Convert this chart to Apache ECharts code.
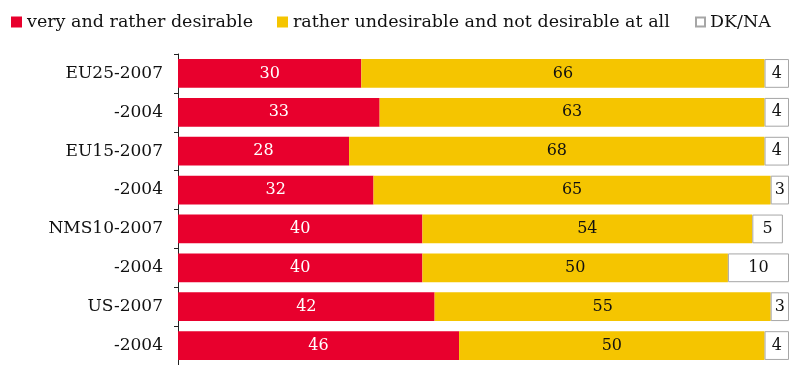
<!DOCTYPE html>
<html>
<head>
<meta charset="utf-8">
<script src="https://cdn.jsdelivr.net/npm/echarts@6/dist/echarts.min.js"></script>
<style>
  html, body { margin: 0; padding: 0; background: #fff; }
  #chart { width: 790px; height: 365px; }
</style>
</head>
<body>
<div id="chart"></div>
<script>
// Survey groups, top to bottom
const categories = ['EU25-2007', '-2004', 'EU15-2007', '-2004', 'NMS10-2007', '-2004', 'US-2007', '-2004'];
// Shares in percent
const desirable   = [30, 33, 28, 32, 40, 40, 42, 46];
const undesirable = [66, 63, 68, 65, 54, 50, 55, 50];
const dkna        = [4, 4, 4, 3, 5, 10, 3, 4];
const seriesNames = ['very and rather desirable', 'rather undesirable and not desirable at all', 'DK/NA'];

const FONT = 'DejaVu Serif';
const RED = '#e8002d';
const YELLOW = '#f5c500';

const chart = echarts.init(document.getElementById('chart'));

function legendAt(left, name, size) {
  return {
    left: left, top: 8,
    data: [{ name: name, icon: 'rect' }],
    itemWidth: size, itemHeight: size,
    itemGap: 6,
    selectedMode: false,
    textStyle: { fontFamily: FONT, fontSize: 17.5, color: '#111', padding: [0, 0, 0, 0] }
  };
}

function barSeries(name, data, color, labelColor, extra) {
  return Object.assign({
    name: name,
    type: 'bar',
    stack: 'total',
    barCategoryGap: '26%',
    data: data,
    itemStyle: { color: color },
    label: {
      show: true,
      position: 'inside',
      color: labelColor,
      fontFamily: FONT,
      fontSize: 16
    },
    emphasis: { disabled: true },
    animation: false
  }, extra || {});
}

chart.setOption({
  animation: false,
  legend: [
    legendAt(6, seriesNames[0], 11),
    legendAt(272, seriesNames[1], 11),
    legendAt(690, seriesNames[2], 9)
  ],
  grid: { left: 178, right: 1, top: 54, height: 314 },
  xAxis: {
    type: 'value',
    min: 0, max: 100,
    show: false
  },
  yAxis: {
    type: 'category',
    data: categories,
    inverse: true,
    axisLine: { show: true, lineStyle: { color: '#222', width: 1 } },
    axisTick: { show: true, length: 4, lineStyle: { color: '#222' } },
    axisLabel: { margin: 15, fontFamily: FONT, fontSize: 17, color: '#111' }
  },
  series: [
    barSeries(seriesNames[0], desirable, RED, '#fff'),
    barSeries(seriesNames[1], undesirable, YELLOW, '#111'),
    barSeries(seriesNames[2], dkna, '#ffffff', '#111', {
      itemStyle: { color: '#ffffff', borderColor: '#a6a6a6', borderWidth: 1 }
    })
  ]
});
</script>
</body>
</html>
